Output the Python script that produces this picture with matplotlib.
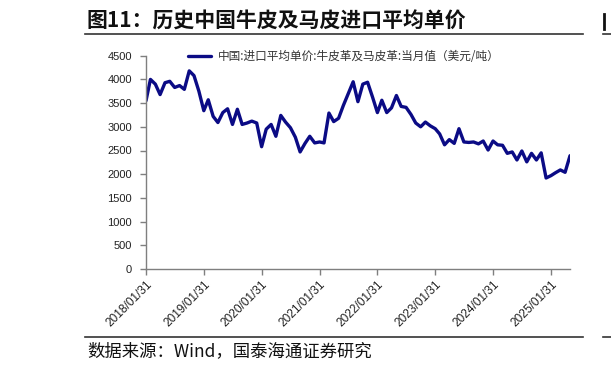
# -*- coding: utf-8 -*-
"""图11 历史中国牛皮及马皮进口平均单价"""
import matplotlib
matplotlib.use('Agg')
import matplotlib.pyplot as plt
import matplotlib.dates as mdates
import pandas as pd

plt.rcParams['font.family'] = ['Noto Sans CJK SC', 'DejaVu Sans']
plt.rcParams['axes.unicode_minus'] = False

# 月度数据 2018/01 - 2025/05（美元/吨）
start_month = '2018-01-31'
price = [
    3550, 4000, 3900, 3680, 3930, 3960, 3830, 3870, 3790, 4180, 4080, 3750,  # 2018
    3340, 3570, 3220, 3090, 3300, 3380, 3050, 3370, 3050, 3080, 3120, 3080,  # 2019
    2580, 2950, 3050, 2800, 3240, 3100, 2980, 2780, 2470, 2650, 2800, 2660,  # 2020
    2680, 2660, 3290, 3110, 3180, 3450, 3700, 3950, 3530, 3900, 3940, 3630,  # 2021
    3300, 3560, 3300, 3400, 3660, 3430, 3410, 3260, 3080, 3000, 3100, 3020,  # 2022
    2960, 2850, 2620, 2730, 2650, 2960, 2680, 2670, 2680, 2640, 2700, 2510,  # 2023
    2700, 2620, 2610, 2440, 2470, 2300, 2490, 2260, 2440, 2300, 2450, 1920,  # 2024
    1970, 2030, 2090, 2040, 2390,                                            # 2025
]
dates = pd.date_range(start_month, periods=len(price), freq='ME')
tick_dates = pd.to_datetime(['%d-01-31' % y for y in range(2018, 2026)])
yticks = list(range(0, 4501, 500))

title = '图11：历史中国牛皮及马皮进口平均单价'
legend_label = '中国:进口平均单价:牛皮革及马皮革:当月值（美元/吨）'
source = '数据来源：Wind，国泰海通证券研究'

W, H = 611, 370
fig = plt.figure(figsize=(W / 100, H / 100), dpi=100)
ax = fig.add_axes([146 / W, 1 - 269 / H, (570 - 146) / W, (269 - 55.7) / H])

ax.plot(dates, price, color='#0B0B85', linewidth=2.4, solid_joinstyle='round',
        solid_capstyle='round', label=legend_label)

ax.set_ylim(0, 4500)
ax.set_yticks(yticks)
ax.set_xlim(dates[0], dates[-1])
ax.set_xticks(tick_dates)
ax.xaxis.set_major_formatter(mdates.DateFormatter('%Y/%m/%d'))

for s in ['top', 'right']:
    ax.spines[s].set_visible(False)
for s in ['left', 'bottom']:
    ax.spines[s].set_color('#7F7F7F')
    ax.spines[s].set_linewidth(1.0)
ax.tick_params(axis='both', colors='#7F7F7F', length=4, width=1.0,
               labelcolor='#222222', labelsize=8)
ax.tick_params(axis='y', pad=6)
ax.tick_params(axis='x', labelsize=8.6, pad=3)
for lab in ax.get_yticklabels():
    lab.set_family('Liberation Sans')
for lab in ax.get_xticklabels():
    lab.set_family('Liberation Sans')
    lab.set_rotation(45)
    lab.set_ha('right')
    lab.set_va('top')
    lab.set_rotation_mode('anchor')

leg = ax.legend(loc='upper left', bbox_to_anchor=(0.087, 1.05), frameon=False,
                fontsize=8.4, handlelength=2.0, handletextpad=0.6,
                borderaxespad=0)
for t in leg.get_texts():
    t.set_color('#333333')

# 标题与来源
fig.text(86 / W, 1 - 21 / H, title, fontsize=15, fontweight='bold',
         ha='left', va='center', color='#111111')
fig.add_artist(plt.Line2D([85 / W, 583 / W], [1 - 33.5 / H] * 2,
                          color='#333333', linewidth=1.2))
fig.add_artist(plt.Line2D([85 / W, 583 / W], [1 - 337 / H] * 2,
                          color='#333333', linewidth=1.2))
fig.text(87 / W, 1 - 351 / H, source, fontsize=12.5, ha='left', va='center',
         color='#111111')

# 右侧相邻图表的残留部分
fig.add_artist(plt.Line2D([604 / W] * 2, [1 - 14 / H, 1 - 29 / H],
                          color='#111111', linewidth=2.0))
fig.add_artist(plt.Line2D([603 / W, 1.0], [1 - 33.5 / H] * 2,
                          color='#333333', linewidth=1.2))
fig.add_artist(plt.Line2D([603 / W, 1.0], [1 - 337 / H] * 2,
                          color='#333333', linewidth=1.2))

fig.savefig('out.png', dpi=100)
plt.close(fig)
